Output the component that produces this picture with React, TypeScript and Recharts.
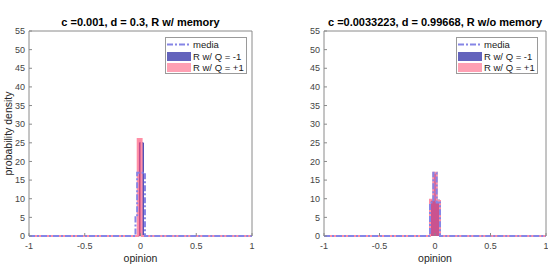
import React from 'react';
import { ComposedChart, Area, Line, XAxis, YAxis } from 'recharts';

const xTicks = [-1, -0.5, 0, 0.5, 1];
const yTicks = [0, 5, 10, 15, 20, 25, 30, 35, 40, 45, 50, 55];

const leftTitle = 'c =0.001, d = 0.3, R w/ memory';
const rightTitle = 'c =0.0033223, d = 0.99668, R w/o memory';
const legendLabels = ['media', 'R w/ Q = -1', 'R w/ Q = +1'];

// Left panel histograms (bin edges & heights)
const leftMediaEdges = [-1, -0.045, -0.03, 0.04, 1];
const leftMediaHeights = [0, 5, 17, 0, 0];
const leftNegEdges = [-1, -0.01, 0.025, 1];
const leftNegHeights = [0, 25, 0, 0];
const leftPosEdges = [-1, -0.025, 0.01, 1];
const leftPosHeights = [0, 26, 0, 0];

// Right panel histograms
const rightMediaEdges = [-1, -0.045, -0.015, 0.015, 0.045, 1];
const rightMediaHeights = [0, 9, 17, 9, 0, 0];
const rightNegEdges = [-1, -0.045, -0.015, 0.015, 0.045, 1];
const rightNegHeights = [0, 9.6, 17, 9.6, 0, 0];
const rightPosEdges = [-1, -0.045, -0.015, 0.015, 0.045, 1];
const rightPosHeights = [0, 9.7, 17, 9.4, 0, 0];

const steps = (edges: number[], heights: number[]) =>
  edges.map((x, i) => ({ x, y: heights[i] ?? 0 }));

const FONT = '"Liberation Sans", Arial, Helvetica, sans-serif';
const AXIS = '#8a8a8a';
const MEDIA = '#8585e6';

type PanelProps = {
  left: number;
  width: number;
  rightW: number;
  media: { x: number; y: number }[];
  neg: { x: number; y: number }[];
  pos: { x: number; y: number }[];
};

const Panel = ({ left, width, rightW, media, neg, pos }: PanelProps) => (
  <div style={{ position: 'absolute', left, top: 0 }}>
    <ComposedChart width={width} height={275} margin={{ top: 21, right: 0, bottom: 14, left: 0 }}>
      <XAxis
        xAxisId="b"
        type="number"
        dataKey="x"
        domain={[-1, 1]}
        ticks={xTicks}
        interval={0}
        height={25}
        tickSize={-3}
        tickMargin={10}
        stroke={AXIS}
        axisLine={false}
        tick={{ fontSize: 9, fill: '#444', fontFamily: FONT }}
      />
      <XAxis
        xAxisId="t"
        orientation="top"
        type="number"
        dataKey="x"
        domain={[-1, 1]}
        ticks={xTicks}
        interval={0}
        height={10}
        tickSize={-3}
        stroke={AXIS}
        tickFormatter={() => ''}
      />
      <YAxis
        yAxisId="l"
        type="number"
        domain={[0, 55]}
        ticks={yTicks}
        interval={0}
        width={29}
        tickSize={-3}
        tickMargin={7}
        stroke={AXIS}
        tick={{ fontSize: 9, fill: '#444', fontFamily: FONT }}
      />
      <YAxis
        yAxisId="r"
        orientation="right"
        type="number"
        domain={[0, 55]}
        ticks={yTicks}
        interval={0}
        width={rightW}
        tickSize={-3}
        stroke={AXIS}
        tickFormatter={() => ''}
      />
      <Area
        xAxisId="b"
        yAxisId="l"
        data={neg}
        dataKey="y"
        type="stepAfter"
        fill="#1a1aa0"
        fillOpacity={0.72}
        stroke="#3030a8"
        strokeWidth={1}
        isAnimationActive={false}
        dot={false}
        activeDot={false}
      />
      <Area
        xAxisId="b"
        yAxisId="l"
        data={pos}
        dataKey="y"
        type="stepAfter"
        fill="#ff4f7a"
        fillOpacity={0.68}
        stroke="#ff8fa6"
        strokeWidth={2}
        isAnimationActive={false}
        dot={false}
        activeDot={false}
      />
      <Line
        xAxisId="b"
        yAxisId="l"
        data={media}
        dataKey="y"
        type="stepAfter"
        stroke={MEDIA}
        strokeWidth={2}
        strokeDasharray="6 2 2 2"
        dot={false}
        activeDot={false}
        isAnimationActive={false}
      />
    </ComposedChart>
  </div>
);

const LegendBox = ({ left }: { left: number }) => (
  <div
    style={{
      position: 'absolute',
      left,
      top: 37,
      width: 80,
      height: 35,
      border: '1px solid #9a9a9a',
      background: '#fff',
      fontFamily: FONT,
      fontSize: 9.5,
      color: '#222',
    }}
  >
    {legendLabels.map((lab, i) => (
      <div
        key={lab}
        style={{ position: 'absolute', left: 1, top: 1 + i * 11.5, height: 11, display: 'flex', alignItems: 'center' }}
      >
        <div style={{ width: 24, height: 9, display: 'flex', alignItems: 'center', flexShrink: 0 }}>
          {i === 0 ? (
            <svg width={24} height={9}>
              <line x1={0} y1={4.5} x2={24} y2={4.5} stroke={MEDIA} strokeWidth={2} strokeDasharray="6 2 2 2" />
            </svg>
          ) : (
            <div style={{ width: 24, height: 9, background: i === 1 ? '#6363bc' : '#ffa0b3' }} />
          )}
        </div>
        <span style={{ marginLeft: 2, whiteSpace: 'nowrap', lineHeight: '11px' }}>{lab}</span>
      </div>
    ))}
  </div>
);

export default function App() {
  return (
    <div style={{ position: 'absolute', left: 0, top: 0, width: 548, height: 275, background: '#fff', overflow: 'hidden' }}>
      <Panel
        left={0}
        width={260}
        rightW={8}
        media={steps(leftMediaEdges, leftMediaHeights)}
        neg={steps(leftNegEdges, leftNegHeights)}
        pos={steps(leftPosEdges, leftPosHeights)}
      />
      <Panel
        left={295}
        width={253}
        rightW={2}
        media={steps(rightMediaEdges, rightMediaHeights)}
        neg={steps(rightNegEdges, rightNegHeights)}
        pos={steps(rightPosEdges, rightPosHeights)}
      />
      <svg width={548} height={275} style={{ position: 'absolute', left: 0, top: 0, pointerEvents: 'none' }}>
        <text x={140.5} y={26} textAnchor="middle" fontFamily={FONT} fontWeight="bold" fontSize={11} fill="#000">
          {leftTitle}
        </text>
        <text x={435} y={26} textAnchor="middle" fontFamily={FONT} fontWeight="bold" fontSize={11} fill="#000">
          {rightTitle}
        </text>
        <text x={140.5} y={262} textAnchor="middle" fontFamily={FONT} fontSize={10.5} fill="#262626">
          opinion
        </text>
        <text x={435} y={262} textAnchor="middle" fontFamily={FONT} fontSize={10.5} fill="#262626">
          opinion
        </text>
        <text
          x={0}
          y={0}
          transform="translate(12,133.5) rotate(-90)"
          textAnchor="middle"
          fontFamily={FONT}
          fontSize={10.5}
          fill="#262626"
        >
          probability density
        </text>
      </svg>
      <LegendBox left={165} />
      <LegendBox left={456} />
    </div>
  );
}
